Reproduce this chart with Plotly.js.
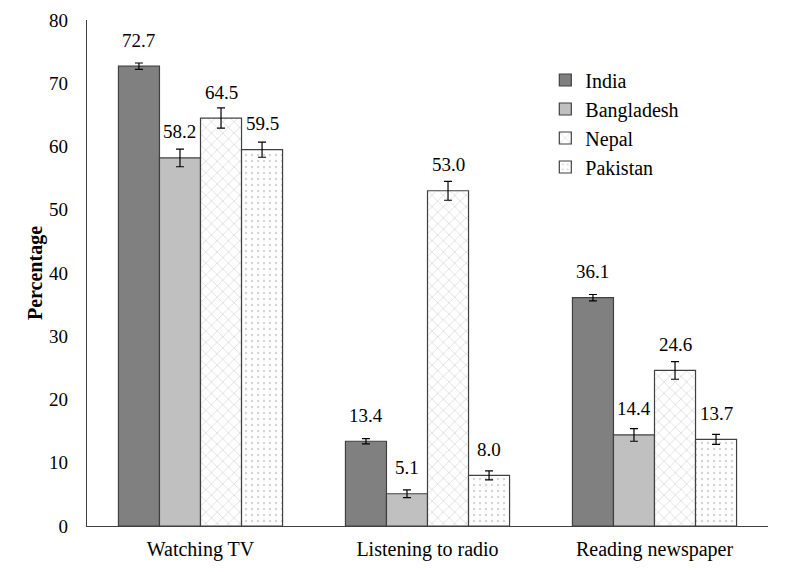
<!DOCTYPE html>
<html>
<head>
<meta charset="utf-8">
<script src="https://cdn.plot.ly/plotly-3.0.1.min.js"></script>
<style>html,body{margin:0;padding:0;background:#fff;}#chart{width:787px;height:572px;}</style>
</head>
<body>
<div id="chart"></div>
<script>
var categories = ["Watching TV", "Listening to radio", "Reading newspaper"];
var seriesNames = ["India", "Bangladesh", "Nepal", "Pakistan"];
var india = [72.7, 13.4, 36.1];
var bangladesh = [58.2, 5.1, 14.4];
var nepal = [64.5, 53.0, 24.6];
var pakistan = [59.5, 8.0, 13.7];
var indiaErr = [0.5, 0.4, 0.5];
var bangladeshErr = [1.4, 0.6, 1.0];
var nepalErr = [1.6, 1.5, 1.4];
var pakistanErr = [1.2, 0.7, 0.8];
var yTicks = [0, 10, 20, 30, 40, 50, 60, 70, 80];

var values = [india, bangladesh, nepal, pakistan];
var errs = [indiaErr, bangladeshErr, nepalErr, pakistanErr];
var fills = ["#808080", "#c0c0c0", "#ffffff", "#ffffff"];
var patterns = [
  {shape: ""},
  {shape: ""},
  {shape: "x", fgcolor: "#aaaaaa", bgcolor: "#ffffff", size: 8, solidity: 0.16, fillmode: "overlay"},
  {shape: ".", fgcolor: "#a8a8a8", bgcolor: "#ffffff", size: 6, solidity: 0.12, fillmode: "overlay"}
];
var bargap = 0.277;
var font = "Times New Roman, Liberation Serif, DejaVu Serif, serif";

var traces = seriesNames.map(function (name, i) {
  return {
    type: "bar",
    name: name,
    x: categories,
    y: values[i],
    marker: {color: fills[i], line: {color: "#404040", width: 1.2}, pattern: patterns[i]},
    error_y: {type: "data", array: errs[i], visible: true, color: "#000", thickness: 1.2, width: 4},
    hoverinfo: "skip"
  };
});

var annotations = [];
var bw = (1 - bargap) / seriesNames.length;
values.forEach(function (arr, i) {
  arr.forEach(function (v, j) {
    annotations.push({
      xref: "x", yref: "y",
      x: j + (i - (seriesNames.length - 1) / 2) * bw,
      y: v,
      text: v.toFixed(1),
      showarrow: false,
      yanchor: "middle",
      yshift: 26,
      font: {family: font, size: 19, color: "#000"}
    });
  });
});

var layout = {
  width: 787, height: 572,
  margin: {l: 87, r: 19, t: 20, b: 46},
  paper_bgcolor: "#fff", plot_bgcolor: "#fff",
  barmode: "group", bargap: bargap, bargroupgap: 0,
  font: {family: font, size: 19, color: "#000"},
  showlegend: true,
  legend: {x: 0.673, y: 0.92, xanchor: "left", yanchor: "top", bgcolor: "rgba(0,0,0,0)",
           font: {family: font, size: 20, color: "#000"}, tracegroupgap: 0, itemwidth: 30},
  xaxis: {type: "category", showline: true, linecolor: "#404040", linewidth: 1.2, ticks: "",
          showgrid: false, zeroline: false, tickfont: {family: font, size: 20}, range: [-0.5, 2.5],
          ticklabelstandoff: 5},
  yaxis: {range: [0, 80], tickvals: yTicks, showline: true, linecolor: "#404040", linewidth: 1.2,
          ticks: "", showgrid: false, zeroline: false, tickfont: {family: font, size: 19},
          ticklabelstandoff: 14,
          title: {text: "<b>Percentage</b>", font: {family: font, size: 20, color: "#000"}, standoff: 1}},
  annotations: annotations
};

Plotly.newPlot("chart", traces, layout, {displayModeBar: false, staticPlot: true});
</script>
</body>
</html>
